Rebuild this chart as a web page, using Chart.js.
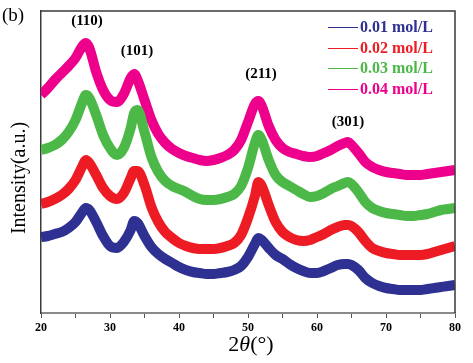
<!DOCTYPE html>
<html>
<head>
<meta charset="utf-8">
<script src="https://cdn.jsdelivr.net/npm/chart.js@4.4.0/dist/chart.umd.min.js"></script>
<style>
  html, body { margin: 0; padding: 0; background: #fff; }
  #wrap { width: 473px; height: 363px; }
</style>
</head>
<body>
<div id="wrap"><canvas id="xrd"></canvas></div>
<script>
// 2-theta positions (deg)
const twoTheta = [20,21,22,23,24,25,26,26.5,27,28,29,30,31,32,33,33.5,34,35,36,37,38,39,40,41,42,43,44,45,46,47,48,49,50,51,51.5,52,53,54,55,56,57,58,59,60,61,62,63,64,64.5,65,66,67,68,69,70,71,72,73,74,75,76,77,78,79,80];

// intensities (a.u., stacked/offset as in the figure)
const s001 = [76,77,79,81,85,91,101,105,103,91,77,67,65,71,83,92,90,77,66,59,54,50,46,43,41,40,39,39,40,41,43,47,56,69,75,73,65,58,54,49,45,42,40,40,42,45,48,49,49,48,43,35,30,27,25,24,23,23,23,23,24,25,26,27,28];
const s002 = [109,111,114,118,124,133,147,153,150,138,125,117,114,120,135,142,142,128,106,91,81,75,70,67,65,64,64,64,65,67,70,78,95,117,131,127,108,91,81,76,73,72,73,76,79,83,86,88,88,87,81,72,65,62,60,59,58,58,58,58,59,61,63,65,67];
const s003 = [163,165,168,173,181,193,211,218,215,198,178,165,158,165,185,200,203,181,156,141,132,127,124,121,117,114,113,113,114,116,119,127,145,170,178,173,153,138,131,127,123,119,116,117,120,124,127,130,131,129,121,111,105,102,100,99,98,97,97,98,99,101,103,104,105];
const s004 = [218,225,233,240,247,255,267,270,265,241,223,213,211,219,235,239,233,213,193,179,170,164,160,157,155,153,152,153,155,158,163,173,191,209,212,207,187,173,165,161,159,157,156,157,160,163,167,170,171,168,160,151,146,143,141,140,139,138,138,138,139,140,141,142,143];

const seriesNames = ["0.01 mol/L", "0.02 mol/L", "0.03 mol/L", "0.04 mol/L"];
const seriesColors = ["#2e3192", "#ed1c24", "#4cb848", "#ec008c"];
const peakLabels = [
  { text: "(110)", px: 87, py: 21 },
  { text: "(101)", px: 137, py: 51 },
  { text: "(211)", px: 261, py: 74 },
  { text: "(301)", px: 348, py: 122 }
];

const allSeries = [s001, s002, s003, s004];
const datasets = allSeries.map((vals, i) => ({
  label: seriesNames[i],
  data: vals.map((v, j) => ({ x: twoTheta[j], y: v })),
  borderColor: seriesColors[i],
  borderWidth: 10,
  pointRadius: 0,
  tension: 0.35,
  cubicInterpolationMode: "monotone",
  fill: false
}));

const serif = "'Liberation Serif', 'Times New Roman', serif";

const decor = {
  id: "decor",
  afterDraw(chart) {
    const ctx = chart.ctx;
    const a = chart.chartArea;
    ctx.save();
    ctx.lineCap = "butt";
    // frame
    ctx.strokeStyle = "#3a3a3a";
    ctx.lineWidth = 1.5;
    ctx.beginPath();
    ctx.moveTo(a.left, a.top);
    ctx.lineTo(a.right, a.top);
    ctx.lineTo(a.right, a.bottom);
    ctx.stroke();

    ctx.fillStyle = "#000";
    ctx.textBaseline = "middle";
    // panel letter
    ctx.font = "19px " + serif;
    ctx.textAlign = "left";
    ctx.fillText("(b)", 2, 16);

    // y title
    ctx.save();
    ctx.translate(20, 178);
    ctx.rotate(-Math.PI / 2);
    ctx.textAlign = "center";
    ctx.font = "20px " + serif;
    ctx.fillText("Intensity(a.u.)", 0, 0);
    ctx.restore();

    // x title with italic theta
    const parts = [["2", "22px " + serif], ["\u03b8", "italic 22px " + serif], ["(\u00b0)", "22px " + serif]];
    let w = 0;
    parts.forEach(p => { ctx.font = p[1]; w += ctx.measureText(p[0]).width; });
    let x0 = 251 - w / 2;
    ctx.textAlign = "left";
    parts.forEach(p => { ctx.font = p[1]; ctx.fillText(p[0], x0, 345); x0 += ctx.measureText(p[0]).width; });

    // peak labels
    ctx.font = "bold 15px " + serif;
    ctx.textAlign = "center";
    peakLabels.forEach(p => ctx.fillText(p.text, p.px, p.py));

    // legend
    const rows = [27, 48, 68, 89];
    ctx.textAlign = "left";
    ctx.font = "bold 16px " + serif;
    seriesNames.forEach((name, i) => {
      ctx.strokeStyle = seriesColors[i];
      ctx.lineWidth = 1;
      ctx.beginPath();
      ctx.moveTo(328, rows[i] + 0.5);
      ctx.lineTo(358, rows[i] + 0.5);
      ctx.stroke();
      ctx.fillStyle = seriesColors[i];
      ctx.fillText(name, 360, rows[i] + 1);
    });
    ctx.restore();
  }
};

new Chart(document.getElementById("xrd"), {
  type: "line",
  data: { datasets: datasets },
  options: {
    responsive: true,
    maintainAspectRatio: false,
    animation: false,
    layout: { padding: { top: 11, right: 18, left: 0, bottom: 0 } },
    plugins: { legend: { display: false }, tooltip: { enabled: false } },
    scales: {
      x: {
        type: "linear",
        min: 20,
        max: 80,
        afterFit: s => { s.height = 50; },
        ticks: {
          stepSize: 5,
          autoSkip: false,
          maxRotation: 0,
          padding: 3,
          color: "#000",
          font: { family: serif, size: 12, weight: "bold" },
          callback: v => (v % 10 === 0 ? v : "")
        },
        grid: { drawOnChartArea: false, tickLength: 5, color: "#555" },
        border: { color: "#8a8a8a", width: 2 }
      },
      y: {
        min: 0,
        max: 302,
        afterFit: s => { s.width = 41; },
        ticks: { display: false },
        grid: { display: false },
        border: { color: "#3a3a3a", width: 1.5 }
      }
    }
  },
  plugins: [decor]
});
</script>
</body>
</html>
